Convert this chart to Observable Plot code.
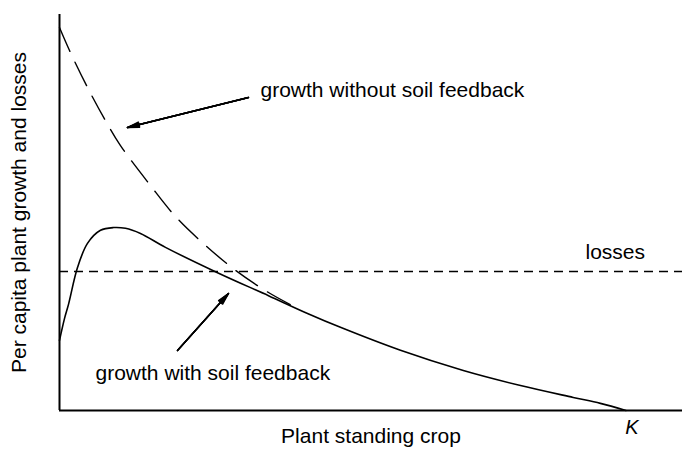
<!DOCTYPE html>
<html><head><meta charset="utf-8">
<script src="https://cdn.jsdelivr.net/npm/d3@7"></script>
<script src="https://cdn.jsdelivr.net/npm/@observablehq/plot@0.6"></script>
<style>body{margin:0;background:#fff} svg{display:block}</style>
</head><body><div id="chart"></div>
<script>
// Plant standing crop (K = 100) and per-capita growth (arbitrary units, 0–100)
const cropWith = [0, 0.88, 1.59, 3.18, 4.94, 7.24, 9.53, 11.65, 14.3, 18.71, 27.9, 36.9, 43.79, 49.6, 60.2, 71.3, 81.4, 90.7, 95.5, 100];
const growthWith = [17.7, 23.2, 26.8, 36.1, 42.2, 45.5, 46.2, 46.0, 44.7, 41.2, 34.8, 29.0, 24.5, 21.0, 15.2, 10.1, 6.3, 3.3, 1.8, 0];
const cropWithout = [0, 1.77, 4.94, 8.12, 10.77, 16.07, 20.66, 25.78, 31.07, 36.9, 42.02];
const growthWithout = [96.7, 90.9, 81.6, 73.2, 66.9, 56.8, 48.7, 41.7, 35.4, 29.8, 25.8];
const lossLevel = 35.1;
const K = 100;
const xLabel = "Plant standing crop";
const yLabel = "Per capita plant growth and losses";
const labelText = ["growth without soil feedback", "growth with soil feedback", "losses"];
const labelX = [35.49, 6.36, 92.87];
const labelY = [79.29, 7.58, 38.38];
const arrowX1 = [33.37, 20.83];
const arrowY1 = [79.04, 15.15];
const arrowX2 = [12.0, 29.84];
const arrowY2 = [71.46, 29.55];

const withData = cropWith.map((x, i) => ({x, y: growthWith[i]}));
const withoutData = cropWithout.map((x, i) => ({x, y: growthWithout[i]}));
const labels = labelText.map((t, i) => ({t, x: labelX[i], y: labelY[i]}));
const arrows = arrowX1.map((x1, i) => ({x1, y1: arrowY1[i], x2: arrowX2[i], y2: arrowY2[i]}));

// several arrow heads with narrowing angles to make a filled-looking head
const headAngles = [26, 18, 11, 5];
const arrowMarks = headAngles.map((a) =>
  Plot.arrow(arrows, {x1: "x1", y1: "y1", x2: "x2", y2: "y2", stroke: "black", strokeWidth: 1.4, headAngle: a, headLength: 13})
);

const chart = Plot.plot({
  width: 682,
  height: 453,
  marginLeft: 59,
  marginRight: 0,
  marginTop: 14,
  marginBottom: 43,
  style: {fontFamily: "'Liberation Sans', Arial, sans-serif", fontSize: "21px", color: "black", background: "white"},
  x: {domain: [0, 110]},
  y: {domain: [0, 100]},
  marks: [
    Plot.ruleY([lossLevel], {stroke: "black", strokeWidth: 1.3, strokeDasharray: "9,6"}),
    Plot.line(withoutData, {x: "x", y: "y", curve: "catmull-rom", stroke: "black", strokeWidth: 1.4, strokeDasharray: "26,12"}),
    Plot.line(withData, {x: "x", y: "y", curve: "catmull-rom", stroke: "black", strokeWidth: 1.6}),
    Plot.ruleX([0], {stroke: "black", strokeWidth: 2}),
    Plot.ruleY([0], {stroke: "black", strokeWidth: 2}),
    ...arrowMarks,
    Plot.text(labels, {x: "x", y: "y", text: "t", textAnchor: "start", lineAnchor: "bottom", fontSize: 21, fill: "black"}),
    Plot.axisX({ticks: [K], tickFormat: () => "K", tickSize: 0, tickPadding: 9, dx: 6, fontStyle: "italic", fontSize: 20, label: null}),
    Plot.axisX({ticks: [], label: xLabel, labelAnchor: "center", labelArrow: "none", labelOffset: 32}),
    Plot.axisY({ticks: [], label: yLabel, labelAnchor: "center", labelArrow: "none", labelOffset: 48})
  ]
});
document.getElementById("chart").appendChild(chart);
</script>
</body></html>
